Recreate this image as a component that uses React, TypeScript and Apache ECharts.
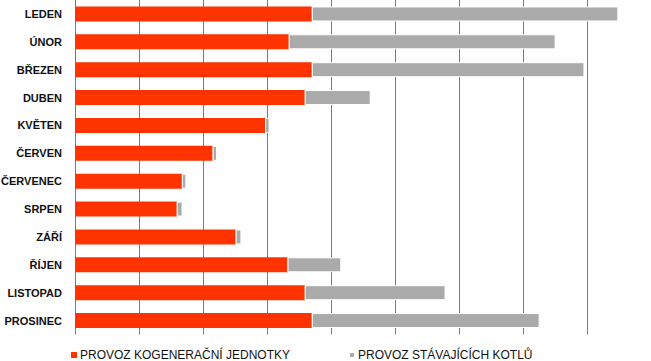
import React, { useEffect, useRef } from "react";
import * as echarts from "echarts";

const months = [
  "LEDEN", "ÚNOR", "BŘEZEN", "DUBEN", "KVĚTEN", "ČERVEN",
  "ČERVENEC", "SRPEN", "ZÁŘÍ", "ŘÍJEN", "LISTOPAD", "PROSINEC",
];
const cogenValues = [3.70, 3.34, 3.70, 3.59, 2.97, 2.15, 1.67, 1.59, 2.51, 3.32, 3.59, 3.70];
const boilerValues = [4.79, 4.17, 4.26, 1.03, 0.07, 0.07, 0.07, 0.09, 0.09, 0.84, 2.20, 3.56];
const seriesNames = ["PROVOZ KOGENERAČNÍ JEDNOTKY", "PROVOZ STÁVAJÍCÍCH KOTLŮ"];

export default function App() {
  const ref = useRef<HTMLDivElement>(null);
  useEffect(() => {
    if (!ref.current) return;
    const chart = echarts.init(ref.current, undefined, { renderer: "svg" });
    chart.setOption({
      animation: false,
      backgroundColor: "#ffffff",
      textStyle: { fontFamily: "Liberation Sans, Arial, sans-serif" },
      grid: {
        left: 75,
        right: 0,
        top: 0,
        bottom: 26.5,
        containLabel: false,
        outerBoundsMode: "none",
      },
      legend: {
        top: 344,
        left: 66,
        icon: "rect",
        itemWidth: 6,
        itemHeight: 6,
        itemGap: 58,
        textStyle: { fontSize: 12, color: "#111", fontFamily: "Liberation Sans, Arial, sans-serif", padding: [0, 0, 0, -2] },
        data: seriesNames,
      },
      xAxis: {
        type: "value",
        min: 0,
        max: 9,
        interval: 1,
        axisLabel: { show: false },
        axisLine: { show: false },
        axisTick: { show: false },
        splitLine: { show: true, lineStyle: { color: "#7a7a7a", width: 1 } },
      },
      yAxis: {
        type: "category",
        data: months,
        inverse: true,
        axisLine: { show: false },
        axisTick: { show: false },
        axisLabel: {
          fontSize: 11,
          fontWeight: "bold",
          color: "#111",
          margin: 13,
          fontFamily: "Liberation Sans, Arial, sans-serif",
        },
        splitLine: { show: false },
      },
      series: [
        {
          name: seriesNames[0],
          type: "bar",
          stack: "total",
          barWidth: 15,
          data: cogenValues,
          itemStyle: { color: "#ff3300" },
        },
        {
          name: seriesNames[1],
          type: "bar",
          stack: "total",
          barWidth: 15,
          data: boilerValues,
          itemStyle: { color: "#aaaaaa", borderColor: "#ffffff", borderWidth: 1 },
        },
      ],
    });
    return () => chart.dispose();
  }, []);
  return (
    <div
      ref={ref}
      style={{ position: "fixed", left: 0, top: 0, width: 651, height: 361 }}
    />
  );
}
